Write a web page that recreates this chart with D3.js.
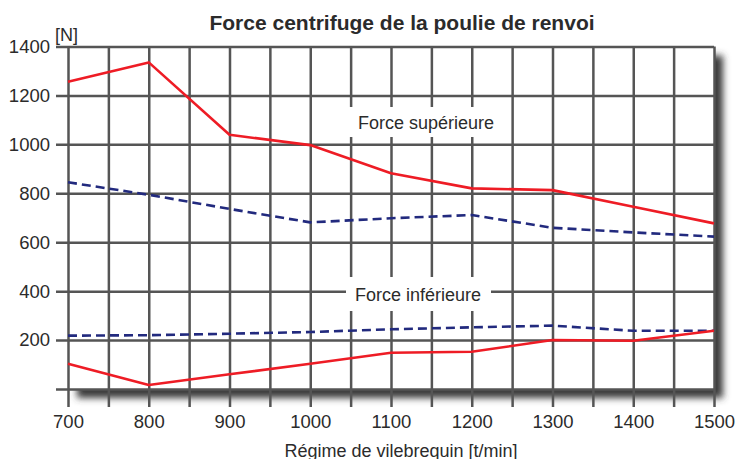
<!DOCTYPE html>
<html>
<head>
<meta charset="utf-8">
<script src="https://cdn.jsdelivr.net/npm/d3@7"></script>
<style>
  body { margin: 0; background: #fff; }
  text { font-family: "Liberation Sans", Arial, sans-serif; fill: #2b2b2b; }
</style>
</head>
<body>
<script>
// Régime (t/min)
var regime = [700, 800, 900, 1000, 1100, 1200, 1300, 1400, 1500];
// Force supérieure, poulie de renvoi [N]
var supRouge = [1256, 1335, 1039, 997, 882, 820, 813, 745, 677];
var supBleu = [845, 794, 736, 681, 698, 711, 659, 640, 623];
// Force inférieure [N]
var infBleu = [218, 220, 226, 233, 244, 252, 259, 238, 238];
var infRouge = [103, 16, 60, 103, 148, 152, 200, 197, 238];

var yTicks = [0, 200, 400, 600, 800, 1000, 1200, 1400];
var xTicks = d3.range(700, 1501, 50);

var width = 738, height = 459;
var plotLeft = 68, plotRight = 714, plotTop = 46.5, plotBottom = 389;
var gridColor = '#555';
var gridW = 2.5;

var svg = d3.select('body').append('svg')
    .attr('width', width)
    .attr('height', height);

var x = d3.scaleLinear().domain([700, 1500]).range([plotLeft, plotRight]);
var y = d3.scaleLinear().domain([0, 1400]).range([plotBottom, plotTop]);

// drop shadow behind plot area
var defs = svg.append('defs');
var f = defs.append('filter').attr('id', 'ombre')
    .attr('x', '-5%').attr('y', '-5%').attr('width', '115%').attr('height', '120%');
f.append('feDropShadow')
    .attr('dx', 9).attr('dy', 9)
    .attr('stdDeviation', 3.5)
    .attr('flood-color', '#3a3a3a')
    .attr('flood-opacity', 1);

svg.append('rect')
    .attr('x', plotLeft).attr('y', plotTop)
    .attr('width', plotRight - plotLeft).attr('height', plotBottom - plotTop)
    .attr('fill', '#fff')
    .attr('filter', 'url(#ombre)');

// horizontal grid + y labels
var yAxis = svg.append('g')
    .attr('transform', 'translate(56,0)')
    .call(d3.axisLeft(y)
      .tickValues(yTicks)
      .tickSize(-(plotRight - 56))
      .tickPadding(6)
      .tickFormat(function(d) { return d === 0 ? '' : d; }));
yAxis.select('.domain').remove();
yAxis.selectAll('line').attr('stroke', gridColor).attr('stroke-width', gridW);
yAxis.selectAll('text').style('font-size', '18.5px').attr('fill', '#2b2b2b');

// vertical grid + x labels
var xAxis = svg.append('g')
    .attr('transform', 'translate(0,407)')
    .call(d3.axisBottom(x)
      .tickValues(xTicks)
      .tickSize(-(407 - plotTop))
      .tickPadding(8)
      .tickFormat(function(d) { return d % 100 === 0 ? d : ''; }));
xAxis.select('.domain').remove();
xAxis.selectAll('line').attr('stroke', gridColor).attr('stroke-width', gridW);
xAxis.selectAll('text').style('font-size', '18.5px').attr('fill', '#2b2b2b');

// white boxes behind the curve names
svg.append('rect').attr('x', 343).attr('y', 107).attr('width', 164).attr('height', 30).attr('fill', '#fff');
svg.append('rect').attr('x', 346).attr('y', 277).attr('width', 145).attr('height', 34).attr('fill', '#fff');

var line = d3.line()
    .x(function(d) { return x(d[0]); })
    .y(function(d) { return y(d[1]); });

function courbe(vals, color, dash) {
  svg.append('path')
    .datum(regime.map(function(r, i) { return [r, vals[i]]; }))
    .attr('d', line)
    .attr('fill', 'none')
    .attr('stroke', color)
    .attr('stroke-width', 2.6)
    .attr('stroke-dasharray', dash)
    .attr('stroke-linejoin', 'round');
}
courbe(supBleu, '#222a7e', '9,5');
courbe(infBleu, '#222a7e', '9,5');
courbe(supRouge, '#ee1c25', null);
courbe(infRouge, '#ee1c25', null);

svg.append('text')
    .attr('x', 426).attr('y', 129)
    .attr('text-anchor', 'middle')
    .style('font-size', '18px')
    .text('Force supérieure');
svg.append('text')
    .attr('x', 418).attr('y', 301)
    .attr('text-anchor', 'middle')
    .style('font-size', '18px')
    .text('Force inférieure');

// title and axis names
svg.append('text')
    .attr('x', 402).attr('y', 30)
    .attr('text-anchor', 'middle')
    .style('font-size', '21px')
    .style('font-weight', 'bold')
    .attr('fill', '#1a1a1a')
    .text('Force centrifuge de la poulie de renvoi');
svg.append('text')
    .attr('x', 55).attr('y', 41)
    .style('font-size', '18px')
    .text('[N]');
svg.append('text')
    .attr('x', 401).attr('y', 456.5)
    .attr('text-anchor', 'middle')
    .style('font-size', '18px')
    .text('Régime de vilebrequin [t/min]');
</script>
</body>
</html>
